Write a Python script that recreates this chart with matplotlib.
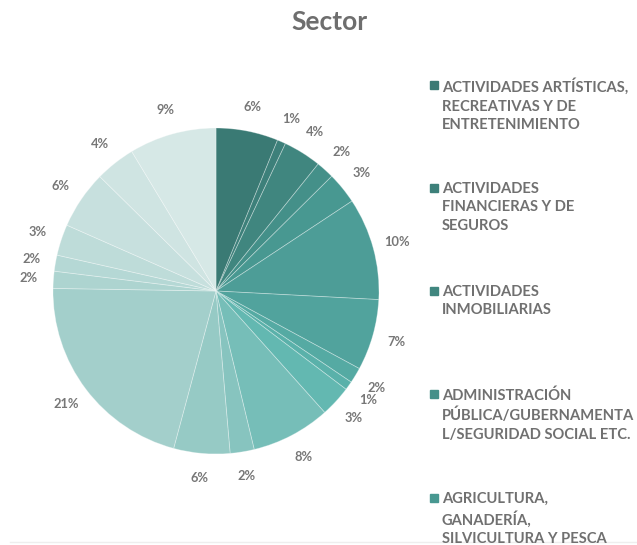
import matplotlib
matplotlib.use("Agg")
import matplotlib.pyplot as plt
from matplotlib.patches import Rectangle
from matplotlib.lines import Line2D

# share of respondents per sector (%), clockwise from 12 o'clock
shares = [6.2, 0.85, 3.8, 1.8, 3.15, 10.2, 7.1, 1.55, 0.87, 3.1,
          7.9, 2.4, 5.6, 21.2, 1.7, 1.6, 3.1, 5.8, 4.0, 8.7]
colors = ['#3a7a74', '#3d807a', '#40867f', '#449089', '#489891',
          '#4d9d97', '#51a39d', '#55aaa3', '#5ab1aa', '#63b8b1',
          '#76beb8', '#87c4bf', '#96cac5', '#a3cfcb', '#add4d0',
          '#b5d8d5', '#bedcd9', '#c7e0de', '#cfe4e2', '#d6e8e6']
# first legend entries (wrapped the way the panel shows them)
sector_names = ["ACTIVIDADES ARTÍSTICAS,\nRECREATIVAS Y DE\nENTRETENIMIENTO",
                "ACTIVIDADES\nFINANCIERAS Y DE\nSEGUROS",
                "ACTIVIDADES\nINMOBILIARIAS",
                "ADMINISTRACIÓN\nPÚBLICA/GUBERNAMENTA\nL/SEGURIDAD SOCIAL ETC.",
                "AGRICULTURA,\nGANADERÍA,\nSILVICULTURA Y PESCA"]

plt.rcParams['font.family'] = ['Lato', 'DejaVu Sans']
W, H = 637, 545
fig = plt.figure(figsize=(W / 100, H / 100), dpi=100)

cx, cy, r = 216, 291, 163
ax = fig.add_axes([(cx - r) / W, (H - cy - r) / H, 2 * r / W, 2 * r / H])
wedges, texts, autotexts = ax.pie(
    shares, colors=colors, startangle=90, counterclock=False,
    autopct='%.0f%%', pctdistance=1.15,
    wedgeprops=dict(edgecolor=(1, 1, 1, 0.35), linewidth=0.6),
    textprops=dict(color='#777777', fontsize=9.3, fontweight='bold'))
ax.set_xlim(-1, 1)
ax.set_ylim(-1, 1)
ax.axis('off')

fig.text(329 / W, 1 - 22 / H, "Sector", ha='center', va='center',
         fontsize=19, fontweight='bold', color='#6e6e6e')

# faint frame line along the bottom
fig.lines.append(Line2D([10 / W, 1], [1 - 542 / H, 1 - 542 / H],
                        transform=fig.transFigure, color='#eeeeee', lw=1,
                        zorder=0))

# legend panel with fixed slots
for i, name in enumerate(sector_names):
    yc = 84.5 + i * 103.3
    sq = Rectangle((430 / W, 1 - (yc + 4) / H), 8 / W, 8 / H,
                   transform=fig.transFigure, color=colors[i])
    fig.patches.append(sq)
    fig.text(442 / W, 1 - (yc - 6) / H, name, ha='left', va='top',
             fontsize=10.6, fontweight='bold', color='#707070',
             linespacing=1.4)

fig.savefig("out.png", dpi=100)
